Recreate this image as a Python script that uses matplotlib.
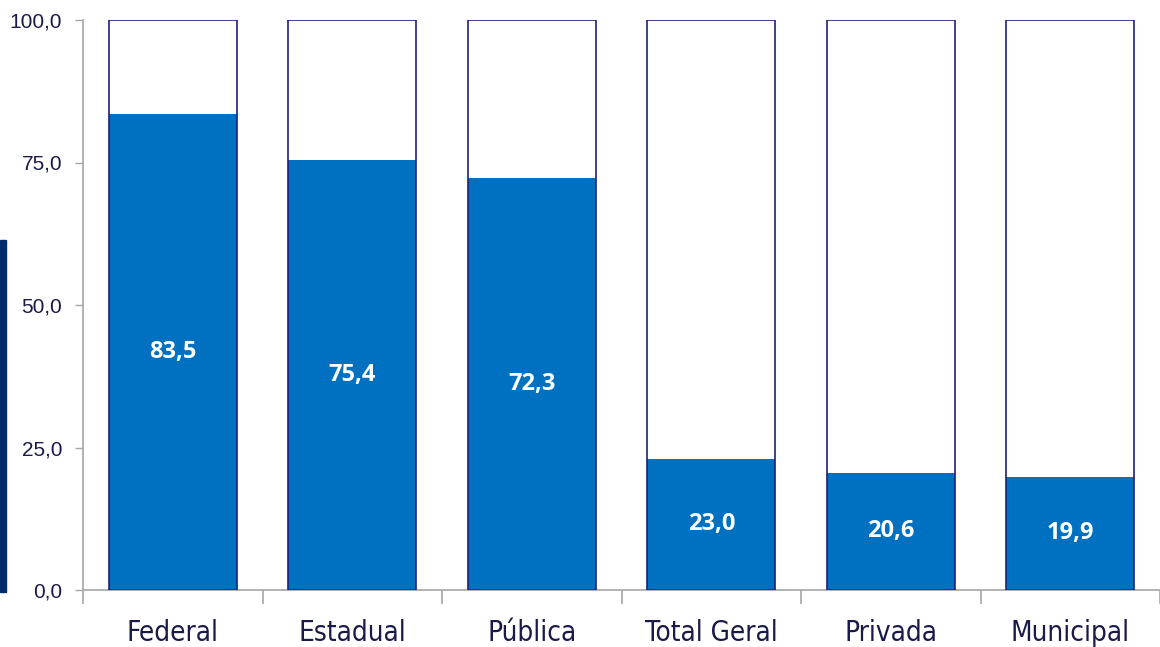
import matplotlib
matplotlib.use("Agg")
import matplotlib.pyplot as plt
from matplotlib.patches import Rectangle
import numpy as np

# dados do grafico
categorias = ["Federal", "Estadual", "Pública", "Total Geral", "Privada", "Municipal"]
valores = [83.5, 75.4, 72.3, 23.0, 20.6, 19.9]
total = 100.0
yticks = [0, 25, 50, 75, 100]

azul = "#0070C0"
borda = "#1F1F7A"
texto = "#1A1A4A"
cinza = "#A6A6A6"

fig = plt.figure(figsize=(11.6, 6.47), dpi=100)
ax = fig.add_axes([83/1160, 1 - 590/647, 1 - 83/1160, 570/647])

x = np.arange(len(categorias))
w = 0.714
ax.bar(x, valores, width=w, color=azul, edgecolor="none", zorder=2)
ax.bar(x, [total]*len(x), width=w, fill=False, edgecolor=borda, linewidth=1.2, zorder=3)

for xi, v in zip(x, valores):
    ax.text(xi, v/2, ("%.1f" % v).replace(".", ","), ha="center", va="center",
            color="white", fontsize=17, fontweight="bold", family="Open Sans", zorder=4)

ax.set_ylim(0, 100)
ax.set_xlim(-0.5, 5.5 - 6/180.5)
ax.set_yticks(yticks)
ax.set_yticklabels([("%.1f" % t).replace(".", ",") for t in yticks],
                   fontsize=15, color=texto, family="Liberation Sans")
ax.tick_params(axis="y", length=6, width=1, color=cinza, pad=9)

ax.set_xticks(x)
ax.set_xticklabels(categorias, fontsize=20, color=texto,
                   family="DejaVu Sans", fontstretch="condensed")
ax.tick_params(axis="x", length=0, pad=21)
ax.set_xticks(np.arange(-0.5, 6, 1), minor=True)
ax.tick_params(axis="x", which="minor", length=10, width=1.2, color=cinza, direction="out")

for s in ["top", "right"]:
    ax.spines[s].set_visible(False)
ax.spines["left"].set_color(cinza)
ax.spines["bottom"].set_color(cinza)
ax.spines["left"].set_linewidth(1.2)
ax.spines["bottom"].set_linewidth(1.2)

# barra lateral escura
fig.patches.append(Rectangle((0, 1 - 592/647), 6/1160, 352/647, transform=fig.transFigure,
                             color="#002B6B", zorder=0))

fig.savefig("out.png", dpi=100)
